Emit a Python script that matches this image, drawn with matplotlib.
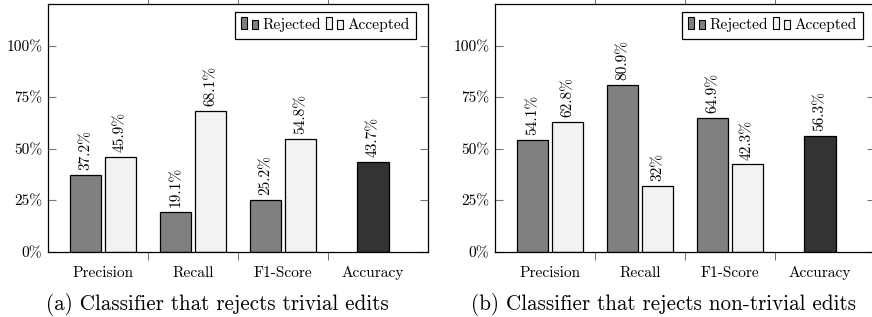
"""Classifier comparison bar charts (trivial vs non-trivial edits)."""

import matplotlib

matplotlib.use("Agg")
import matplotlib.pyplot as plt
import numpy as np
from matplotlib.legend_handler import HandlerBase
from matplotlib.patches import Patch, Rectangle

plt.rcParams["font.family"] = "serif"
plt.rcParams["font.serif"] = ["cmr10", "DejaVu Serif"]
plt.rcParams["axes.formatter.use_mathtext"] = True

categories = ["Precision", "Recall", "F1-Score", "Accuracy"]
y_ticks = [0, 25, 50, 75, 100]
y_tick_labels = ["0%", "25%", "50%", "75%", "100%"]

rejected_a = [37.2, 19.1, 25.2]
accepted_a = [45.9, 68.1, 54.8]
accuracy_a = 43.7

rejected_b = [54.1, 80.9, 64.9]
accepted_b = [62.8, 32, 42.3]
accuracy_b = 56.3

captions = [
    "(a) Classifier that rejects trivial edits",
    "(b) Classifier that rejects non-trivial edits",
]

C_REJ = "#808080"
C_ACC = "#f2f2f2"
C_TOT = "#333333"
FS = 11.1
CAP_FS = 15.2


class BarPairHandler(HandlerBase):
    def create_artists(self, legend, orig_handle, xdescent, ydescent, width, height, fontsize, trans):
        fc = orig_handle.get_facecolor()
        bw = width * 0.35
        r1 = Rectangle((0, 0), bw, fontsize * 0.82, facecolor=fc, edgecolor="black", lw=0.8, transform=trans)
        r2 = Rectangle((width - bw, 0), bw, fontsize * 0.62, facecolor=fc, edgecolor="black", lw=0.8, transform=trans)
        return [r1, r2]


def fmt(v):
    return f"{v:g}%"


def draw_panel(ax, rejected, accepted, accuracy):
    x = np.arange(len(categories))
    bw = 0.345
    off = 0.193
    kw = dict(edgecolor="black", linewidth=0.9, zorder=2)
    b1 = ax.bar(x[:3] - off, rejected, bw, color=C_REJ, **kw)
    b2 = ax.bar(x[:3] + off, accepted, bw, color=C_ACC, **kw)
    b3 = ax.bar([x[3]], [accuracy], bw, color=C_TOT, **kw)
    for bars in (b1, b2, b3):
        for rect in bars:
            h = rect.get_height()
            ax.annotate(fmt(h), (rect.get_x() + rect.get_width() / 2, h),
                        xytext=(0, 3.5), textcoords="offset points",
                        rotation=90, ha="center", va="bottom", fontsize=FS)

    ax.set_xlim(-0.611, 3.611)
    ax.set_ylim(0, 120)
    ax.set_xticks(x)
    ax.set_xticklabels(categories, fontsize=FS)
    ax.set_xticks([0.5, 1.5, 2.5], minor=True)
    ax.tick_params(axis="x", which="major", length=0, pad=10.5)
    ax.tick_params(axis="x", which="minor", length=6, direction="out", top=True, bottom=True, color="#555555")
    ax.set_yticks(y_ticks)
    ax.set_yticklabels(y_tick_labels, fontsize=FS)
    ax.tick_params(axis="y", length=6, direction="in", right=True, pad=4, color="#777777")
    for s in ax.spines.values():
        s.set_linewidth(0.9)

    handles = [Patch(facecolor=C_REJ), Patch(facecolor=C_ACC)]
    ax.legend(handles, ["Rejected", "Accepted"], handler_map={Patch: BarPairHandler()},
              loc="upper right", bbox_to_anchor=(0.968, 0.969), borderaxespad=0,
              ncol=2, fontsize=FS, frameon=True, fancybox=False, edgecolor="black",
              framealpha=1, handlelength=1.1, handletextpad=0.3, columnspacing=0.3,
              borderpad=0.4)
    ax.get_legend().get_frame().set_linewidth(0.9)


fig = plt.figure(figsize=(8.72, 3.17), dpi=100)
ax_a = fig.add_axes([48 / 872, 1 - 251.7 / 317, 380 / 872, 247.4 / 317])
ax_b = fig.add_axes([495 / 872, 1 - 251.7 / 317, 380 / 872, 247.4 / 317])
draw_panel(ax_a, rejected_a, accepted_a, accuracy_a)
draw_panel(ax_b, rejected_b, accepted_b, accuracy_b)

fig.text(217 / 872, 1 - 310 / 317, captions[0], ha="center", va="baseline", fontsize=CAP_FS)
fig.text(663.5 / 872, 1 - 310 / 317, captions[1], ha="center", va="baseline", fontsize=CAP_FS)

fig.savefig("out.png", dpi=100)
